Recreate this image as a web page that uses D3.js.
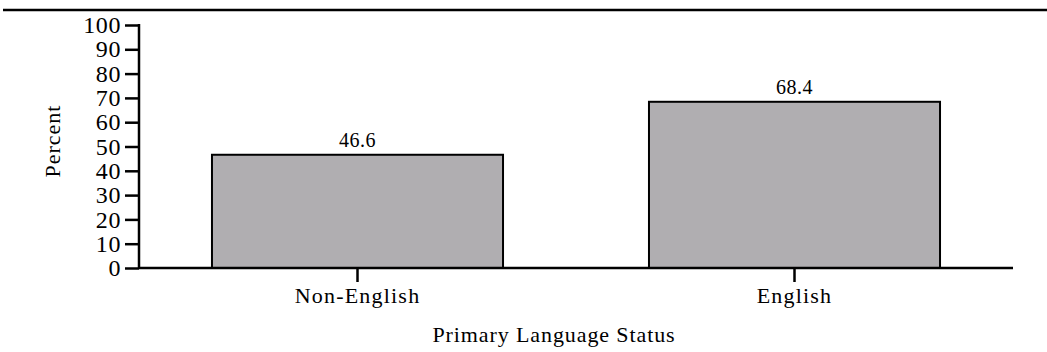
<!DOCTYPE html>
<html><head><meta charset="utf-8">
<script src="https://cdn.jsdelivr.net/npm/d3@7"></script>
<style>body{margin:0;background:#fff}svg{display:block}text{font-family:"Liberation Serif","Times New Roman",serif;fill:#000}</style>
</head><body><svg id="c" width="1047" height="352"></svg>
<script>
const categories = ["Non-English", "English"];
const values = [46.6, 68.4];
const yTicks = [0,10,20,30,40,50,60,70,80,90,100];
const xTitle = "Primary Language Status";
const yTitle = "Percent";

const svg = d3.select("#c");
const L = 139, R = 1013, T = 25, B = 268;
const x = d3.scaleBand().domain(categories).range([L, R]).paddingInner(0.334).paddingOuter(0.167);
const y = d3.scaleLinear().domain([0, 100]).range([B, T]);

svg.append("line").attr("x1", 3).attr("x2", 1047).attr("y1", 10).attr("y2", 10)
  .attr("stroke", "#000").attr("stroke-width", 2.5);

svg.selectAll("rect.bar").data(values).join("rect").attr("class","bar")
  .attr("x", (d,i) => x(categories[i])).attr("width", x.bandwidth())
  .attr("y", d => y(d)).attr("height", d => B - y(d))
  .attr("fill", "#b0aeb1").attr("stroke", "#000").attr("stroke-width", 2);

svg.selectAll("text.val").data(values).join("text").attr("class","val")
  .attr("x", (d,i) => x(categories[i]) + x.bandwidth()/2).attr("y", d => y(d) - 8)
  .attr("text-anchor","middle").style("font-size","20px").style("letter-spacing","0.5px").text(d => d.toFixed(1));

const ya = svg.append("g").attr("transform", `translate(${L},0)`)
  .call(d3.axisLeft(y).tickValues(yTicks).tickSize(14).tickPadding(4).tickFormat(d3.format("d")));
ya.select(".domain").attr("stroke-width", 2.5).attr("d", `M0,${T-1}V${B}`);
ya.selectAll(".tick line").attr("stroke-width", 2.5);
ya.selectAll(".tick text").style("font-size","24px").style("font-family","Liberation Serif").style("letter-spacing","0.6px").attr("fill","#000");

const xa = svg.append("g").attr("transform", `translate(0,${B})`)
  .call(d3.axisBottom(x).tickSize(14).tickPadding(5));
xa.select(".domain").attr("stroke-width", 2.5).attr("d", `M${L},0H${R}`);
xa.selectAll(".tick line").attr("stroke-width", 2.5);
xa.selectAll(".tick text").style("font-size","22px").style("font-family","Liberation Serif").style("letter-spacing","1.2px").attr("fill","#000");

svg.append("text").attr("x", 554).attr("y", 342).attr("text-anchor","middle")
  .style("font-size","22px").style("letter-spacing","0.9px").text(xTitle);
svg.append("text").attr("transform", "translate(60,141) rotate(-90)").attr("text-anchor","middle")
  .style("font-size","22px").style("letter-spacing","1px").text(yTitle);
</script></body></html>
